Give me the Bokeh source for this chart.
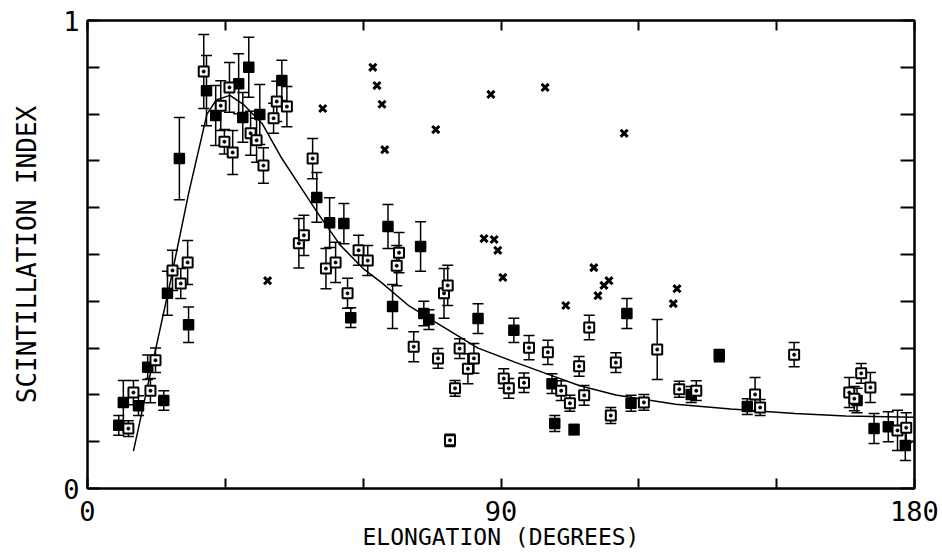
from bokeh.plotting import figure
from bokeh.models import (ColumnDataSource, Whisker, TeeHead, LinearAxis, FixedTicker,
                          CustomJSTickFormatter, Range1d)
from bokeh.embed import file_html
from bokeh.resources import INLINE

# ---- data ----
# filled squares: elongation (deg), scintillation index, error half-length
fill_x = [6.8, 7.8, 11.1, 13.1, 16.6, 17.4, 22.0, 20.0, 25.9, 27.9, 32.9, 35.1, 33.8, 37.5, 42.3,
          49.9, 52.7, 55.8, 57.3, 65.4, 66.4, 72.5, 73.2, 74.3, 85.0, 92.8, 101.1, 101.7, 105.9,
          117.4, 118.3, 131.4, 137.5, 143.6, 167.5, 171.2, 174.3, 178.0]
fill_y = [0.135, 0.184, 0.177, 0.259, 0.188, 0.417, 0.350, 0.705, 0.850, 0.797, 0.865, 0.900, 0.793,
          0.799, 0.872, 0.622, 0.568, 0.566, 0.365, 0.560, 0.389, 0.517, 0.374, 0.361, 0.363, 0.338,
          0.224, 0.139, 0.126, 0.374, 0.182, 0.201, 0.284, 0.175, 0.188, 0.128, 0.132, 0.092]
fill_e = [0.021, 0.047, 0.021, 0.026, 0.021, 0.047, 0.038, 0.088, 0.075, 0.064, 0.064, 0.064, 0.053,
          0.064, 0.043, 0.053, 0.053, 0.043, 0.021, 0.047, 0.047, 0.053, 0.026, 0.021, 0.032, 0.026,
          0.021, 0.017, 0.011, 0.032, 0.017, 0.017, 0.013, 0.017, 0.026, 0.032, 0.032, 0.032]

# open squares
open_x = [8.9, 10.0, 13.7, 14.8, 18.5, 20.3, 21.8, 25.3, 29.0, 29.8, 30.9, 31.6, 35.5, 36.8, 38.3,
          40.5, 41.2, 43.4, 49.0, 46.0, 47.1, 51.9, 54.0, 56.6, 59.0, 61.0, 67.8, 67.3, 71.0, 76.3,
          77.6, 78.4, 80.0, 81.0, 82.8, 84.1, 78.9, 90.6, 91.7, 95.0, 96.1, 100.2, 103.1, 105.0,
          107.0, 108.1, 109.2, 113.9, 115.0, 121.1, 124.0, 128.8, 132.5, 145.3, 146.4, 153.8,
          165.8, 166.9, 168.4, 170.4, 176.3, 178.2]
open_y = [0.128, 0.205, 0.209, 0.274, 0.466, 0.438, 0.483, 0.891, 0.818, 0.741, 0.857, 0.718, 0.759,
          0.744, 0.690, 0.791, 0.827, 0.816, 0.705, 0.524, 0.541, 0.470, 0.483, 0.417, 0.509, 0.487,
          0.504, 0.476, 0.303, 0.278, 0.417, 0.434, 0.214, 0.299, 0.256, 0.278, 0.103, 0.235, 0.214,
          0.226, 0.301, 0.291, 0.209, 0.182, 0.261, 0.199, 0.344, 0.156, 0.269, 0.184, 0.297, 0.212,
          0.209, 0.201, 0.173, 0.286, 0.205, 0.192, 0.246, 0.216, 0.124, 0.130]
open_e = [0.017, 0.026, 0.026, 0.026, 0.043, 0.032, 0.047, 0.079, 0.053, 0.026, 0.053, 0.047, 0.047,
          0.047, 0.038, 0.032, 0.043, 0.043, 0.043, 0.053, 0.043, 0.043, 0.043, 0.032, 0.032, 0.032,
          0.043, 0.043, 0.032, 0.021, 0.053, 0.043, 0.017, 0.021, 0.032, 0.032, 0.013, 0.021, 0.021,
          0.021, 0.026, 0.026, 0.021, 0.017, 0.021, 0.021, 0.026, 0.017, 0.021, 0.017, 0.064, 0.017,
          0.021, 0.036, 0.017, 0.026, 0.032, 0.026, 0.021, 0.032, 0.043, 0.032]

# crosses (no error bars)
cross_x = [62.1, 63.0, 64.1, 64.7, 51.2, 75.8, 87.8, 99.6, 116.8, 39.2, 86.3, 88.5, 89.3, 90.4,
           104.1, 110.2, 112.4, 113.5, 111.1, 128.3, 127.5]
cross_y = [0.900, 0.861, 0.821, 0.724, 0.812, 0.767, 0.842, 0.857, 0.759, 0.444, 0.534, 0.532,
           0.509, 0.451, 0.391, 0.472, 0.434, 0.444, 0.412, 0.427, 0.395]

# model curve
curve_x = [10, 14, 18, 22, 26, 28, 31, 34, 38, 42, 46, 50, 55, 60, 64, 70, 75, 80, 85, 93, 100,
           107, 115, 128, 140, 154, 165, 180]
curve_y = [0.08, 0.26, 0.44, 0.63, 0.80, 0.83, 0.84, 0.82, 0.78, 0.71, 0.65, 0.59, 0.52, 0.47,
           0.44, 0.39, 0.36, 0.33, 0.30, 0.27, 0.245, 0.22, 0.20, 0.18, 0.17, 0.16, 0.155, 0.152]

x_ticks = [0, 30, 60, 90, 120, 150, 180]
y_ticks = [0, 0.1, 0.2, 0.3, 0.4, 0.5, 0.6, 0.7, 0.8, 0.9, 1.0]

FONT = "DejaVu Sans Mono"

p = figure(width=942, height=560, output_backend="svg", toolbar_location=None,
           x_range=Range1d(0, 180), y_range=Range1d(0, 1),
           x_axis_location=None, y_axis_location=None,
           min_border_left=87, min_border_right=28, min_border_top=20, min_border_bottom=72)
p.xgrid.visible = False
p.ygrid.visible = False
p.outline_line_color = "black"
p.outline_line_width = 2
p.background_fill_color = "white"
p.border_fill_color = "white"

# curve
p.line(curve_x, curve_y, line_color="black", line_width=1.5)

def add_errors(xs, ys, es):
    src = ColumnDataSource(dict(x=xs, lo=[y - e for y, e in zip(ys, es)],
                                hi=[y + e for y, e in zip(ys, es)]))
    w = Whisker(source=src, base="x", lower="lo", upper="hi", line_color="black", line_width=1.5,
                upper_head=TeeHead(size=11, line_width=1.5, line_color="black"),
                lower_head=TeeHead(size=11, line_width=1.5, line_color="black"))
    p.add_layout(w)

add_errors(fill_x, fill_y, fill_e)
add_errors(open_x, open_y, open_e)

p.scatter(fill_x, fill_y, marker="square", size=10, fill_color="black", line_color="black",
          line_width=1.5)
p.scatter(open_x, open_y, marker="square", size=10, fill_color="white", line_color="black",
          line_width=2)
p.scatter(open_x, open_y, marker="circle", size=3, fill_color="black", line_color="black")
p.scatter(cross_x, cross_y, marker="x", size=10, line_color="black", line_width=3)

# axes
xfmt = CustomJSTickFormatter(code="return (Math.round(tick) % 90 == 0) ? String(Math.round(tick)) : '';")
yfmt = CustomJSTickFormatter(code="if (Math.abs(tick) < 1e-6) return '0'; if (Math.abs(tick-1) < 1e-6) return '1'; return '';")

def style(ax, tick_len, labels=True):
    ax.axis_line_color = "black"
    ax.axis_line_width = 2
    ax.major_tick_in = tick_len
    ax.major_tick_out = 0
    ax.major_tick_line_width = 2
    ax.major_tick_line_color = "black"
    ax.minor_tick_line_color = None
    ax.major_label_text_font = FONT
    ax.major_label_text_font_size = "27px"
    ax.major_label_text_color = "black" if labels else None
    ax.axis_label_text_font = FONT
    ax.axis_label_text_font_style = "normal"
    ax.axis_label_text_color = "black"

xb = LinearAxis(ticker=FixedTicker(ticks=x_ticks), formatter=xfmt)
style(xb, 10)
xb.major_label_standoff = 12
xb.axis_label = "ELONGATION (DEGREES)"
xb.axis_label_text_font_size = "23px"
xb.axis_label_standoff = 0
p.add_layout(xb, "below")

xt = LinearAxis(ticker=FixedTicker(ticks=x_ticks), formatter=xfmt)
style(xt, 10, labels=False)
xt.major_label_text_font_size = "0px"
p.add_layout(xt, "above")

yl = LinearAxis(ticker=FixedTicker(ticks=y_ticks), formatter=yfmt)
style(yl, 12)
yl.major_label_standoff = 8
yl.axis_label = "SCINTILLATION INDEX"
yl.axis_label_text_font_size = "26px"
yl.axis_label_standoff = 18
p.add_layout(yl, "left")

yr = LinearAxis(ticker=FixedTicker(ticks=y_ticks), formatter=yfmt)
style(yr, 14, labels=False)
yr.major_label_text_font_size = "0px"
p.add_layout(yr, "right")

open("out.html", "w").write(file_html(p, INLINE))
